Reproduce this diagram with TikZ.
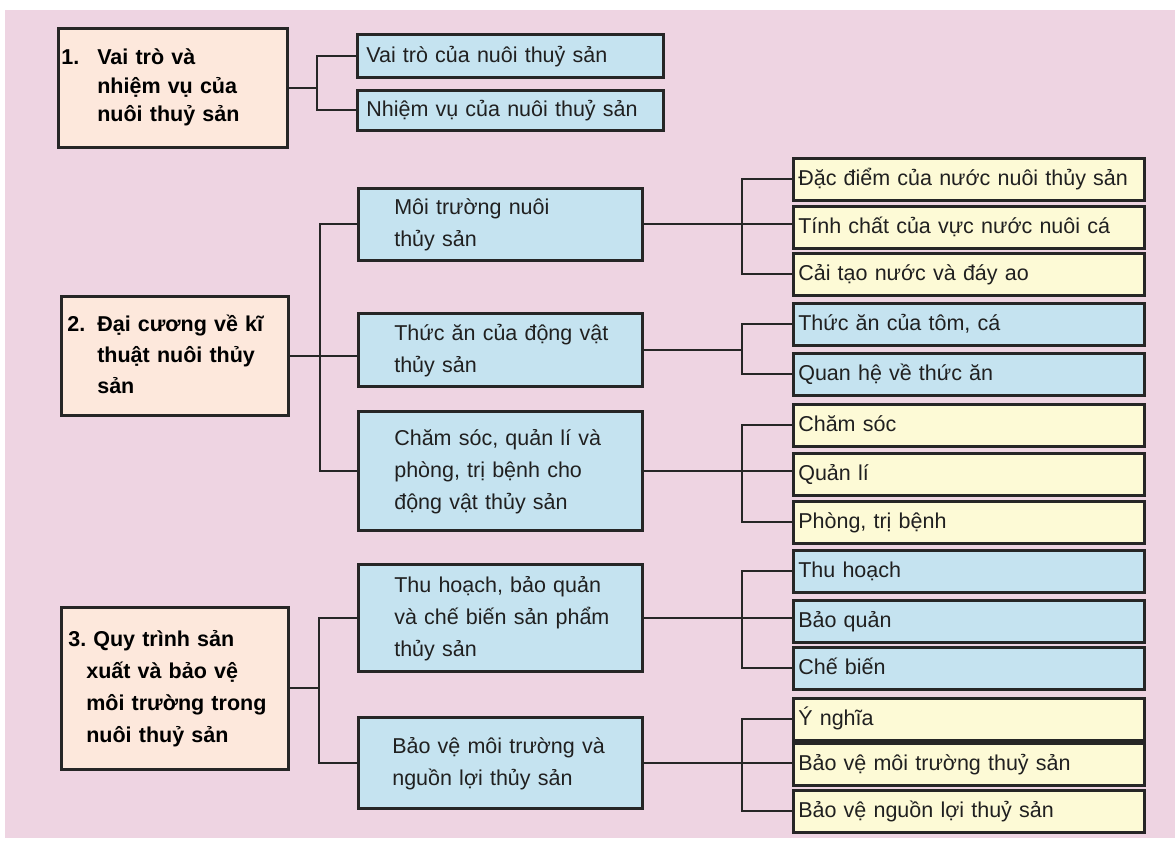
\documentclass[tikz,border=0pt]{standalone}
\usepackage{fontspec}
\setmainfont{Liberation Sans}
\definecolor{pinkbg}{HTML}{EED4E2}
\definecolor{bluebox}{HTML}{C5E3F0}
\definecolor{yellowbox}{HTML}{FDFAD6}
\definecolor{peachbox}{HTML}{FDE8DC}
\definecolor{bordercol}{HTML}{262626}
\definecolor{textcol}{HTML}{202020}
\begin{document}
\begin{tikzpicture}[x=1pt,y=-1pt,
  box/.style={draw=bordercol, line width=2.6pt, anchor=north west, inner ysep=0pt,
    align=left, text=textcol, font=\fontsize{21.5}{32}\selectfont,
    execute at end node=\strut},
  mainbox/.style={box, fill=peachbox, text=black, execute at begin node=\strut},
  midbox/.style={box, fill=bluebox, inner xsep=0pt, text width=284pt,
    execute at begin node={\leftskip=36pt\strut}},
  subbox/.style={box, fill=bluebox, inner xsep=9pt, text width=288pt, execute at begin node=\strut},
  rbox/.style={box, inner xsep=5pt, text width=341pt, minimum height=42pt, execute at begin node=\strut},
  rblue/.style={rbox, fill=bluebox},
  ryellow/.style={rbox, fill=yellowbox},
  conn/.style={draw=bordercol, line width=2pt}]
\useasboundingbox (0,0) rectangle (1175,843);
\fill[white] (0,0) rectangle (1175,843);
\fill[pinkbg] (5,10) rectangle (1175,838);

% group 1
\node[mainbox, inner xsep=3pt, text width=223pt, minimum height=119pt,
  font=\bfseries\fontsize{21.5}{28.5}\selectfont] (b1) at (57,27)
  {\makebox[36pt][l]{1.}Vai trò và\\\hspace*{36pt}nhiệm vụ của\\\hspace*{36pt}nuôi thuỷ sản};
\node[subbox, minimum height=43pt] (s1) at (356,33) {Vai trò của nuôi thuỷ sản};
\node[subbox, minimum height=40pt] (s2) at (356,89) {Nhiệm vụ của nuôi thuỷ sản};

% group 2
\node[mainbox, inner xsep=6pt, text width=215pt, minimum height=119pt,
  font=\bfseries\fontsize{21.5}{31}\selectfont] (b2) at (60,295)
  {\makebox[30pt][l]{2.}Đại cương về kĩ\\\hspace*{30pt}thuật nuôi thủy\\\hspace*{30pt}sản};
\node[midbox, minimum height=72pt] (m1) at (357,187) {Môi trường nuôi\\thủy sản};
\node[midbox, minimum height=73pt] (m2) at (357,312) {Thức ăn của động vật\\thủy sản};
\node[midbox, minimum height=119pt] (m3) at (357,410) {Chăm sóc, quản lí và\\phòng, trị bệnh cho\\động vật thủy sản};

\node[ryellow] (r1) at (792,157) {Đặc điểm của nước nuôi thủy sản};
\node[ryellow] (r2) at (792,205) {Tính chất của vực nước nuôi cá};
\node[ryellow] (r3) at (792,252) {Cải tạo nước và đáy ao};
\node[rblue] (r4) at (792,302) {Thức ăn của tôm, cá};
\node[rblue] (r5) at (792,352) {Quan hệ về thức ăn};
\node[ryellow] (r6) at (792,403) {Chăm sóc};
\node[ryellow] (r7) at (792,452) {Quản lí};
\node[ryellow] (r8) at (792,500) {Phòng, trị bệnh};

% group 3
\node[mainbox, inner xsep=7pt, text width=213pt, minimum height=162pt,
  font=\bfseries\fontsize{21.5}{32}\selectfont] (b3) at (60,606)
  {\makebox[25pt][l]{3.}Quy trình sản\\\hspace*{18pt}xuất và bảo vệ\\\hspace*{18pt}môi trường trong\\\hspace*{18pt}nuôi thuỷ sản};
\node[midbox, minimum height=107pt] (m4) at (357,563) {Thu hoạch, bảo quản\\và chế biến sản phẩm\\thủy sản};
\node[midbox, minimum height=91pt, execute at begin node={\leftskip=34pt}] (m5) at (357,716) {Bảo vệ môi trường và\\nguồn lợi thủy sản};

\node[rblue] (r9) at (792,549) {Thu hoạch};
\node[rblue] (r10) at (792,599) {Bảo quản};
\node[rblue] (r11) at (792,646) {Chế biến};
\node[ryellow] (r12) at (792,697) {Ý nghĩa};
\node[ryellow] (r13) at (792,742) {Bảo vệ môi trường thuỷ sản};
\node[ryellow] (r14) at (792,789) {Bảo vệ nguồn lợi thuỷ sản};

% junction columns
\coordinate (j1) at (317,0);
\coordinate (j2) at (320,0);
\coordinate (j3) at (319,0);
\coordinate (k) at (742,0);

% connectors level 1
\draw[conn] (b1.east) -- (j1 |- b1.east);
\draw[conn] (s1.west) -- (j1 |- s1.west) -- (j1 |- s2.west) -- (s2.west);

\draw[conn] (b2.east) -- (b2.east -| m2.west);
\draw[conn] (m1.west) -- (j2 |- m1.west) -- (j2 |- m3.west) -- (m3.west);

\draw[conn] (b3.east) -- (j3 |- b3.east);
\draw[conn] (m4.west) -- (j3 |- m4.west) -- (j3 |- m5.west) -- (m5.west);

% connectors level 2
\draw[conn] (m1.east) -- (m1.east -| r2.west);
\draw[conn] (r1.west) -- (k |- r1.west) -- (k |- r3.west) -- (r3.west);

\draw[conn] (m2.east) -- (k |- m2.east);
\draw[conn] (r4.west) -- (k |- r4.west) -- (k |- r5.west) -- (r5.west);

\draw[conn] (m3.east) -- (m3.east -| r7.west);
\draw[conn] (r6.west) -- (k |- r6.west) -- (k |- r8.west) -- (r8.west);

\draw[conn] (m4.east) -- (m4.east -| r10.west);
\draw[conn] (r9.west) -- (k |- r9.west) -- (k |- r11.west) -- (r11.west);

\draw[conn] (m5.east) -- (m5.east -| r13.west);
\draw[conn] (r12.west) -- (k |- r12.west) -- (k |- r14.west) -- (r14.west);
\end{tikzpicture}
\end{document}
